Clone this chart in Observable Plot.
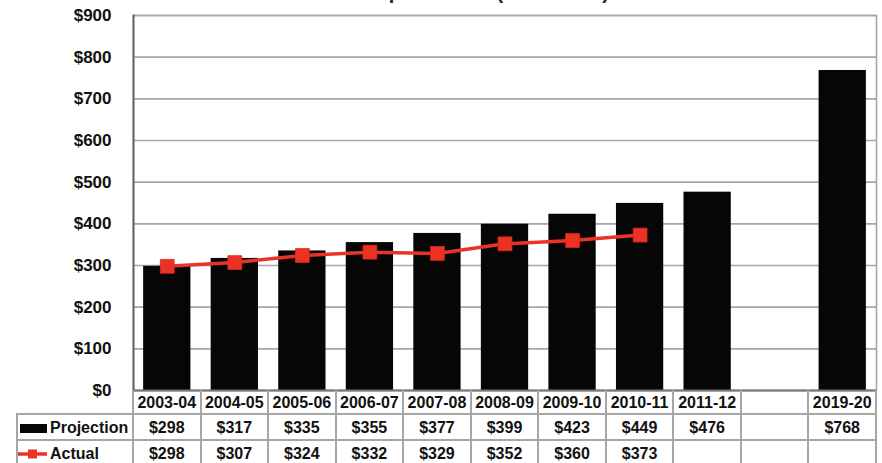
<!DOCTYPE html>
<html>
<head>
<meta charset="utf-8">
<script src="https://cdn.jsdelivr.net/npm/d3@7"></script>
<script src="https://cdn.jsdelivr.net/npm/@observablehq/plot@0.6"></script>
<style>
  body { margin: 0; background: #fff; font-family: "Liberation Sans", Arial, sans-serif; }
  #chart { position: relative; width: 882px; height: 463px; overflow: hidden; background: #fff; }
  #title { position: absolute; top: -19px; left: 0; width: 882px; text-align: center;
           font-weight: bold; font-size: 20px; color: #222; white-space: nowrap; }
  #chart svg { position: absolute; top: 0; left: 0; }
  .cell { position: absolute; box-sizing: border-box; display: flex; align-items: center;
          justify-content: center; font-weight: bold; font-size: 16px; color: #111; white-space: nowrap; }
  .label { justify-content: flex-start; }
  .hl { position: absolute; background: #a6a6a6; height: 2px; }
  .vl { position: absolute; background: #a6a6a6; width: 2px; }
</style>
</head>
<body>
<div id="chart"><div id="title">Medicaid Expenditures (in millions)</div></div>
<script>
// Fiscal years (the blank slot marks the gap before the long-range projection)
const years = ["2003-04", "2004-05", "2005-06", "2006-07", "2007-08", "2008-09",
               "2009-10", "2010-11", "2011-12", " ", "2019-20"];
// Projected spending, $ millions
const projection = [298, 317, 335, 355, 377, 399, 423, 449, 476, null, 768];
// Actual spending, $ millions
const actual = [298, 307, 324, 332, 329, 352, 360, 373, null, null, null];
// Value axis ticks
const yTicks = [0, 100, 200, 300, 400, 500, 600, 700, 800, 900];

const RED = "#ec3224";
const GRID = "#a6a6a6";

const rows = years.map((year, i) => ({year, projection: projection[i], actual: actual[i]}));
const barRows = rows.filter(d => d.projection != null);
const lineRows = rows.filter(d => d.actual != null);

const plot = Plot.plot({
  width: 882,
  height: 392,
  marginTop: 15,
  marginBottom: 2,
  marginLeft: 133,
  marginRight: 6,
  style: {fontFamily: "'Liberation Sans', Arial, sans-serif", color: "#111", background: "transparent", overflow: "visible"},
  x: {domain: years, paddingInner: 0.3, paddingOuter: 0.15, round: false, axis: null},
  y: {domain: [0, 900]},
  marks: [
    Plot.gridY(yTicks, {stroke: GRID, strokeOpacity: 1, strokeWidth: 1.6}),
    Plot.frame({stroke: GRID, strokeWidth: 1.6}),
    Plot.barY(barRows, {x: "year", y: "projection", fill: "#060606"}),
    Plot.frame({anchor: "left", stroke: "#666", strokeWidth: 2}),
    Plot.ruleY([0], {stroke: "#777", strokeWidth: 2}),
    Plot.axisY(yTicks, {tickFormat: d => "$" + d, tickSize: 0, tickPadding: 22,
                        fontSize: 17, fontWeight: "bold", label: null}),
    Plot.line(lineRows, {x: "year", y: "actual", stroke: RED, strokeWidth: 3.5}),
    Plot.dot(lineRows, {x: "year", y: "actual", symbol: "square", r: 7.8, fill: RED, stroke: "#e02a1c", strokeWidth: 0.8})
  ]
});

const chart = document.getElementById("chart");
chart.appendChild(plot);

// Data table under the bars, aligned to the band scale columns
const xs = plot.scale("x");
const step = xs.step;
const x0 = xs.range[0];
const colLeft = i => x0 + i * step;
const rowTop = [390, 414, 440, 466];
const tableLeft = 17;
const xRight = colLeft(years.length);

function cell(text, left, top, width, height, cls) {
  const d = document.createElement("div");
  d.className = "cell" + (cls ? " " + cls : "");
  Object.assign(d.style, {left: left + "px", top: top + "px", width: width + "px", height: height + "px"});
  d.textContent = text;
  chart.appendChild(d);
  return d;
}
function line(cls, left, top, len) {
  const d = document.createElement("div");
  d.className = cls;
  Object.assign(d.style, {left: left + "px", top: top + "px"});
  if (cls === "hl") d.style.width = len + "px"; else d.style.height = len + "px";
  chart.appendChild(d);
}

years.forEach((year, i) => {
  const l = colLeft(i);
  cell(year.trim(), l, rowTop[0] + 1, step, rowTop[1] - rowTop[0]);
  cell(projection[i] != null ? "$" + projection[i] : "", l, rowTop[1] + 1, step, rowTop[2] - rowTop[1]);
  cell(actual[i] != null ? "$" + actual[i] : "", l, rowTop[2] + 1, step, rowTop[3] - rowTop[2]);
});

// Row labels with legend keys
const projLabel = cell("", tableLeft, rowTop[1] + 1, x0 - tableLeft, rowTop[2] - rowTop[1], "label");
projLabel.innerHTML =
  '<svg width="33" height="12" style="position:static"><rect x="3" y="2" width="27" height="9" fill="#060606"/></svg>Projection';
const actLabel = cell("", tableLeft, rowTop[2] + 1, x0 - tableLeft, rowTop[3] - rowTop[2], "label");
actLabel.innerHTML =
  '<svg width="33" height="14" style="position:static"><line x1="1" x2="30" y1="7" y2="7" stroke="' + RED +
  '" stroke-width="3.5"/><rect x="11" y="2.5" width="9" height="9" fill="' + RED + '"/></svg>Actual';

// Grid lines of the table
line("hl", tableLeft, rowTop[1] - 1, xRight - tableLeft + 1);
line("hl", tableLeft, rowTop[2] - 1, xRight - tableLeft + 1);
line("hl", tableLeft, rowTop[3] - 1, xRight - tableLeft + 1);
for (let i = 0; i <= years.length; i++) {
  line("vl", colLeft(i) - 1, rowTop[0], rowTop[3] - rowTop[0]);
}
line("vl", tableLeft - 1, rowTop[1] - 1, rowTop[3] - rowTop[1]);
</script>
</body>
</html>
